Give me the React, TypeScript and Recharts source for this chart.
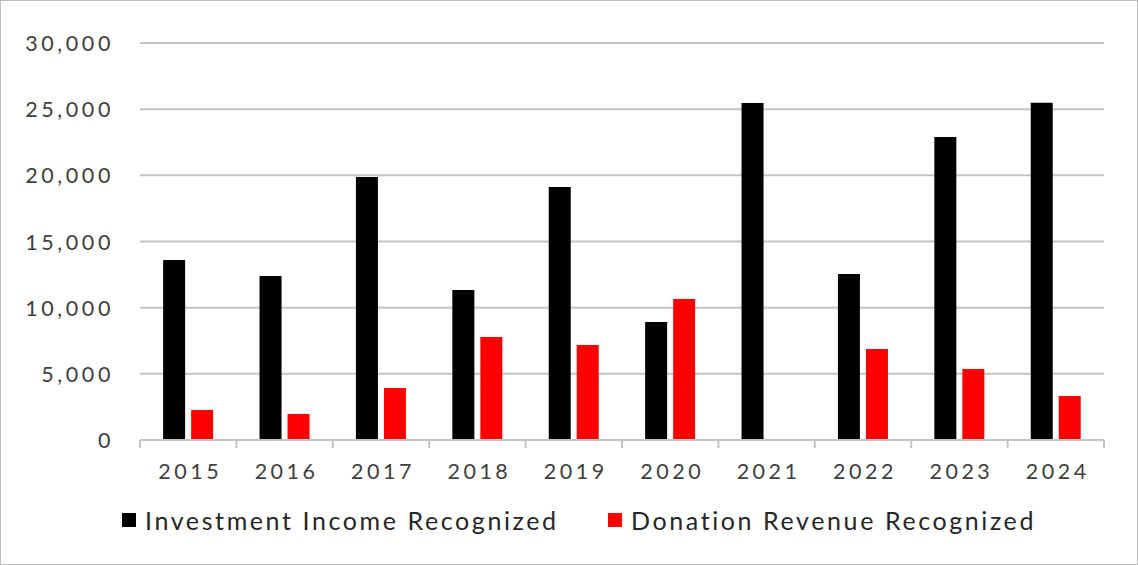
import React from 'react';
import { BarChart, Bar, XAxis, YAxis, CartesianGrid, Legend } from 'recharts';

const years = ['2015', '2016', '2017', '2018', '2019', '2020', '2021', '2022', '2023', '2024'];
const investmentIncome = [13600, 12400, 19880, 11340, 19120, 8920, 25470, 12550, 22900, 25480];
const donationRevenue = [2270, 1970, 3930, 7790, 7180, 10660, 0, 6880, 5370, 3330];
const yTicks = [0, 5000, 10000, 15000, 20000, 25000, 30000];

const data = years.map((y, i) => ({
  year: y,
  inv: investmentIncome[i],
  don: donationRevenue[i],
}));

const FONT = 'Lato, "Open Sans", sans-serif';
const TEXT = '#404040';
const GRID = '#c4c4c4';

const W = 1138;
const H = 565;
const PLOT_LEFT = 140;
const PLOT_RIGHT = 1104;
const BAND = (PLOT_RIGHT - PLOT_LEFT) / years.length;

const XTick = (props: any) => {
  const { x, y, payload, index } = props;
  return (
    <g>
      <line x1={x - BAND / 2} x2={x - BAND / 2} y1={y - 8} y2={y} stroke={GRID} strokeWidth={2} />
      {index === years.length - 1 && (
        <line x1={x + BAND / 2} x2={x + BAND / 2} y1={y - 8} y2={y} stroke={GRID} strokeWidth={2} />
      )}
      <text x={x + 2} y={y + 31} textAnchor="middle" fill={TEXT} fontFamily={FONT} fontSize={21.5} letterSpacing={3.5}>
        {payload.value}
      </text>
    </g>
  );
};

const YTick = (props: any) => {
  const { y, payload } = props;
  return (
    <text x={114} y={y} dy={8} textAnchor="end" fill={TEXT} fontFamily={FONT} fontSize={21.5} letterSpacing={3.6}>
      {payload.value.toLocaleString('en-US')}
    </text>
  );
};

const LegendContent = () => (
  <div style={{ height: 75, width: W, position: 'relative', fontFamily: FONT, fontSize: 25, color: '#262626', letterSpacing: 2.6 }}>
    <div style={{ position: 'absolute', left: 122, top: 15, display: 'flex', alignItems: 'center' }}>
      <span style={{ display: 'inline-block', width: 14, height: 14, background: '#000000', marginRight: 9 }} />
      <span>Investment Income Recognized</span>
    </div>
    <div style={{ position: 'absolute', left: 608, top: 15, display: 'flex', alignItems: 'center' }}>
      <span style={{ display: 'inline-block', width: 14, height: 14, background: '#ff0000', marginRight: 9 }} />
      <span>Donation Revenue Recognized</span>
    </div>
  </div>
);

export default function App() {
  return (
    <div style={{ position: 'absolute', left: 0, top: 0, width: W, height: H, background: '#fff' }}>
      <div style={{ position: 'absolute', left: 0, top: 0, width: W - 2, height: H - 2, border: '1px solid #bfbfbf', pointerEvents: 'none', zIndex: 2 }} />
      <BarChart
        width={W}
        height={H}
        data={data}
        margin={{ top: 43, right: W - PLOT_RIGHT, left: 0, bottom: 0 }}
        barCategoryGap="24%"
        barGap={6}
      >
        <CartesianGrid vertical={false} stroke={GRID} strokeWidth={2} />
        <XAxis
          dataKey="year"
          height={50}
          axisLine={{ stroke: GRID, strokeWidth: 2 }}
          tickLine={false}
          tick={<XTick />}
          interval={0}
        />
        <YAxis
          width={PLOT_LEFT}
          domain={[0, 30000]}
          ticks={yTicks}
          axisLine={false}
          tickLine={false}
          tick={<YTick />}
          interval={0}
        />
        <Legend verticalAlign="bottom" content={<LegendContent />} wrapperStyle={{ left: 0, width: W }} />
        <Bar dataKey="inv" name="Investment Income Recognized" fill="#000000" isAnimationActive={false} />
        <Bar dataKey="don" name="Donation Revenue Recognized" fill="#ff0000" isAnimationActive={false} />
      </BarChart>
    </div>
  );
}
